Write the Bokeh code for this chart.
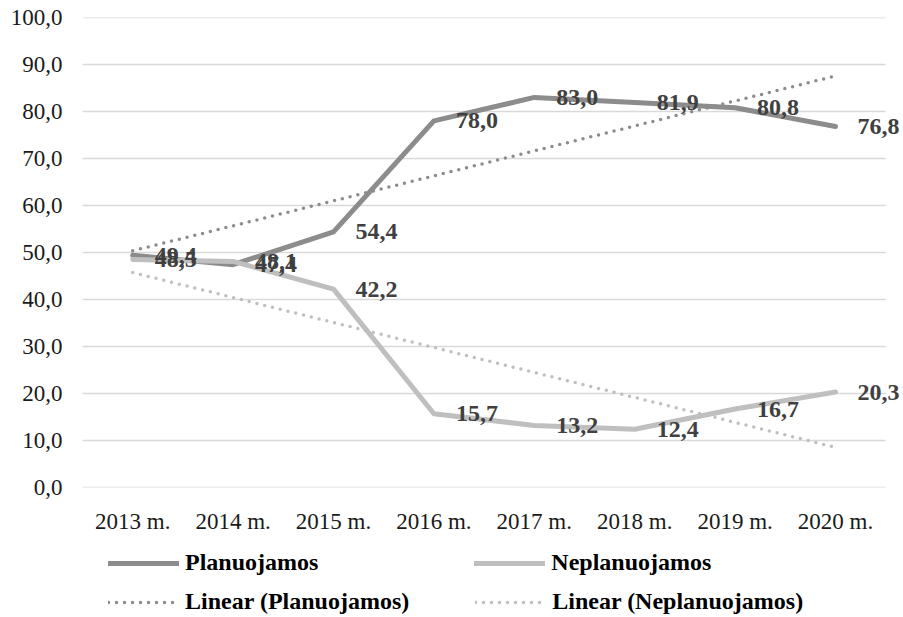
import numpy as np
from bokeh.plotting import figure
from bokeh.layouts import column
from bokeh.models import (ColumnDataSource, LabelSet, Legend, LegendItem, FixedTicker, Range1d)
from bokeh.embed import file_html
from bokeh.resources import INLINE

years = ["2013 m.", "2014 m.", "2015 m.", "2016 m.", "2017 m.", "2018 m.", "2019 m.", "2020 m."]
planuojamos = [49.4, 47.4, 54.4, 78.0, 83.0, 81.9, 80.8, 76.8]
neplanuojamos = [48.5, 48.1, 42.2, 15.7, 13.2, 12.4, 16.7, 20.3]
y_ticks = [0, 10, 20, 30, 40, 50, 60, 70, 80, 90, 100]
series_names = ["Planuojamos", "Neplanuojamos", "Linear (Planuojamos)", "Linear (Neplanuojamos)"]

FONT = "Liberation Serif"
FS_AX = "23px"
FS_LAB = "24px"
C_P = "#8c8c8c"
C_N = "#bfbfbf"
W = 903
LEFT = 82

n = len(years)
xi = np.arange(n)
fit_p = np.polyval(np.polyfit(xi, planuojamos, 1), xi)
fit_n = np.polyval(np.polyfit(xi, neplanuojamos, 1), xi)

def fmt(v):
    return f"{v:.1f}".replace(".", ",")

src = ColumnDataSource(dict(
    x=list(xi), p=planuojamos, n=neplanuojamos,
    fp=list(fit_p), fn=list(fit_n),
    pl=[fmt(v) for v in planuojamos], nl=[fmt(v) for v in neplanuojamos],
))

p = figure(width=W, height=538, x_range=Range1d(-0.5, n - 0.323), y_range=Range1d(0, 100),
           output_backend="svg", toolbar_location=None,
           min_border_left=LEFT, min_border_right=0, min_border_top=17, min_border_bottom=51)
p.outline_line_color = None
p.background_fill_color = "white"
p.xgrid.grid_line_color = None
p.ygrid.grid_line_color = None

# horizontal gridlines spanning the category band
grid_src = ColumnDataSource(dict(y=y_ticks, x0=[-0.5] * len(y_ticks), x1=[n - 0.5] * len(y_ticks)))
p.segment(x0="x0", x1="x1", y0="y", y1="y", source=grid_src, line_color="#d9d9d9", line_width=1.5)

LINE = dict(line_width=5, line_join="round", line_cap="round")
DOT = dict(line_width=3.5, line_dash="0 8", line_cap="round")
p.line("x", "p", source=src, line_color=C_P, **LINE)
p.line("x", "n", source=src, line_color=C_N, **LINE)
p.line("x", "fp", source=src, line_color=C_P, **DOT)
p.line("x", "fn", source=src, line_color=C_N, **DOT)

for col, lab in (("p", "pl"), ("n", "nl")):
    ls = LabelSet(x="x", y=col, text=lab, source=src, x_offset=22, y_offset=0,
                  text_font=FONT, text_font_size=FS_LAB, text_font_style="bold",
                  text_color="#404040", text_baseline="middle", text_align="left")
    p.add_layout(ls)

p.xaxis.ticker = FixedTicker(ticks=list(xi))
p.xaxis.major_label_overrides = {int(i): y for i, y in zip(xi, years)}
p.yaxis.ticker = FixedTicker(ticks=y_ticks)
p.yaxis.major_label_overrides = {t: fmt(t) for t in y_ticks}
for ax in (p.xaxis, p.yaxis):
    ax.axis_line_color = None
    ax.major_tick_line_color = None
    ax.minor_tick_line_color = None
    ax.major_tick_out = 0
    ax.major_tick_in = 0
    ax.major_label_text_font = FONT
    ax.major_label_text_font_size = FS_AX
    ax.major_label_text_color = "#1a1a1a"
p.yaxis.major_label_standoff = 20
p.xaxis.major_label_standoff = 21

# ---- legend strip (separate figure below the chart) ----
lf = figure(width=W, height=78, x_range=Range1d(0, 1), y_range=Range1d(0, 1),
            output_backend="svg", toolbar_location=None,
            min_border_left=LEFT, min_border_right=0, min_border_top=0, min_border_bottom=0,
            x_axis_type=None, y_axis_type=None)
lf.outline_line_color = None
lf.xgrid.grid_line_color = None
lf.ygrid.grid_line_color = None
nan = [np.nan]
lr_p = lf.line(x=nan, y=nan, line_color=C_P, **LINE)
lr_n = lf.line(x=nan, y=nan, line_color=C_N, **LINE)
lr_fp = lf.line(x=nan, y=nan, line_color=C_P, **DOT)
lr_fn = lf.line(x=nan, y=nan, line_color=C_N, **DOT)

def make_legend(items, spacing, loc):
    lg = Legend(items=items, orientation="horizontal", location=loc)
    lg.border_line_color = None
    lg.background_fill_alpha = 0
    lg.label_text_font = FONT
    lg.label_text_font_size = FS_LAB
    lg.label_text_font_style = "bold"
    lg.label_text_color = "#000000"
    lg.glyph_width = 71
    lg.label_standoff = 6
    lg.spacing = spacing
    lg.padding = 0
    lg.margin = 0
    lg.label_height = 24
    lg.glyph_height = 24
    return lg

leg1 = make_legend([LegendItem(label=series_names[0], renderers=[lr_p]),
                    LegendItem(label=series_names[1], renderers=[lr_n])], 156, (26, 40))
leg2 = make_legend([LegendItem(label=series_names[2], renderers=[lr_fp]),
                    LegendItem(label=series_names[3], renderers=[lr_fn])], 66, (26, 1))
lf.add_layout(leg1, "center")
lf.add_layout(leg2, "center")

layout = column(p, lf, spacing=0)
open("out.html", "w").write(file_html(layout, INLINE))
